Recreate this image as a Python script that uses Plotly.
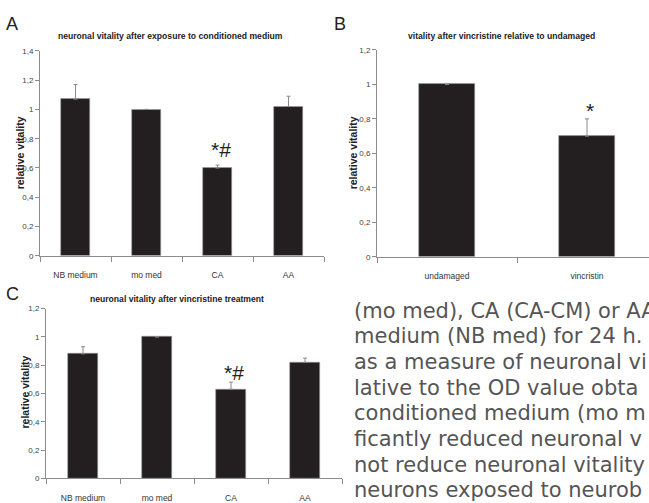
import plotly.graph_objects as go

W, H = 649, 503

# ---- data ----
cats_A = ["NB medium", "mo med", "CA", "AA"]
vals_A = [1.07, 1.00, 0.60, 1.02]
errtop_A = [1.17, 1.00, 0.62, 1.09]

cats_B = ["undamaged", "vincristin"]
vals_B = [1.00, 0.70]
errtop_B = [1.00, 0.80]

cats_C = ["NB medium", "mo med", "CA", "AA"]
vals_C = [0.88, 1.00, 0.63, 0.82]
errtop_C = [0.93, 1.00, 0.68, 0.85]

sig_A = {"CA": ("*#", 0.725)}
sig_B = {"vincristin": ("*", 0.85)}
sig_C = {"CA": ("*#", 0.75)}

title_A = "neuronal vitality after exposure to conditioned medium"
title_B = "vitality after vincristine relative to undamaged"
title_C = "neuronal vitality after vincristine treatment"
ylabel = "relative vitality"

para_lines = [
    "(mo med), CA (CA-CM) or AA",
    "medium (NB med) for 24 h.",
    "as a measure of neuronal vi",
    "lative to the OD value obta",
    "conditioned medium (mo m",
    "ficantly reduced neuronal v",
    "not reduce neuronal vitality",
    "neurons exposed to neurob",
]

BAR = "#231f20"
AX = "#8c8c8c"
SANS = "Liberation Sans, Arial, sans-serif"

def px_x(p):
    return p / W

def px_y(p):
    return 1 - p / H

fig = go.Figure()

def add_panel(cats, vals, errtop, xa, ya):
    fig.add_trace(go.Bar(
        x=cats, y=vals, xaxis=xa, yaxis=ya, width=0.4,
        marker=dict(color=BAR, line=dict(color="#9a9a9a", width=0.6)),
        error_y=dict(type="data", symmetric=False,
                     array=[t - v for t, v in zip(errtop, vals)],
                     arrayminus=[0] * len(vals),
                     color="#8a8a8a", thickness=1, width=2),
        showlegend=False,
    ))

add_panel(cats_A, vals_A, errtop_A, "x", "y")
add_panel(cats_B, vals_B, errtop_B, "x2", "y2")
add_panel(cats_C, vals_C, errtop_C, "x3", "y3")

xcommon = dict(type="category", showline=True, linecolor=AX, linewidth=1,
               ticks="outside", tickson="boundaries", ticklen=5, tickcolor=AX,
               tickfont=dict(family=SANS, size=8.5, color="#333"),
               showgrid=False, zeroline=False, fixedrange=True)
ycommon = dict(showline=True, linecolor=AX, linewidth=1, ticks="outside",
               ticklen=4, tickcolor=AX, dtick=0.2,
               tickfont=dict(family=SANS, size=8, color="#444"),
               showgrid=False, zeroline=False, fixedrange=True)

fig.update_layout(
    width=W, height=H, margin=dict(l=0, r=0, t=0, b=0),
    paper_bgcolor="white", plot_bgcolor="white", separators=",.",
    bargap=0,
    xaxis=dict(xcommon, domain=[px_x(40), px_x(324)], anchor="y",
               range=[-0.5, 3.5], ticklabelstandoff=11),
    yaxis=dict(ycommon, domain=[px_y(258), px_y(48)], anchor="x",
               range=[0, 1.4]),
    xaxis2=dict(xcommon, domain=[px_x(377), 1], anchor="y2",
                range=[-0.5, -0.5 + (W - 377) / 140], ticklabelstandoff=11),
    yaxis2=dict(ycommon, domain=[px_y(259), px_y(47)], anchor="x2",
                range=[0, 1.2]),
    xaxis3=dict(xcommon, domain=[px_x(46), px_x(342)], anchor="y3",
                range=[-0.5, 3.5], ticklabelstandoff=11),
    yaxis3=dict(ycommon, domain=[px_y(486), px_y(312)], anchor="x3",
                range=[0, 1.2]),
)

ann = []
# significance markers
for sig, xa, ya in [(sig_A, "x", "y"), (sig_B, "x2", "y2"), (sig_C, "x3", "y3")]:
    for cat, (txt, yv) in sig.items():
        ann.append(dict(x=cat, y=yv, xref=xa, yref=ya, text=txt, showarrow=False,
                        font=dict(family=SANS, size=21, color="#222"), xshift=3))

# panel letters
for letter, x, y in [("A", 12, 21), ("B", 340, 21), ("C", 12, 297)]:
    ann.append(dict(x=px_x(x), y=px_y(y), xref="paper", yref="paper", text=letter,
                    showarrow=False, xanchor="center", yanchor="middle",
                    font=dict(family=SANS, size=18, color="#222")))

# titles
for t, x, y in [(title_A, 170, 33), (title_B, 501, 33), (title_C, 177, 302)]:
    ann.append(dict(x=px_x(x), y=px_y(y), xref="paper", yref="paper",
                    text="<b>%s</b>" % t, showarrow=False,
                    xanchor="center", yanchor="middle",
                    font=dict(family=SANS, size=8.6, color="#222")))

# y labels
for x, y in [(20, 153), (353, 153), (25, 398)]:
    ann.append(dict(x=px_x(x), y=px_y(y), xref="paper", yref="paper",
                    text="<b>%s</b>" % ylabel, showarrow=False, textangle=-90,
                    xanchor="center", yanchor="middle",
                    font=dict(family=SANS, size=10.5, color="#222")))

# paragraph text
for i, line in enumerate(para_lines):
    ann.append(dict(x=px_x(352), y=px_y(314 + i * 26.3), xref="paper", yref="paper",
                    text=line, showarrow=False, xanchor="left", yanchor="middle",
                    font=dict(family="DejaVu Sans, sans-serif", size=21, color="#555")))

fig.update_layout(annotations=ann)
fig.write_html("out.html", config={"displayModeBar": False},
               post_script="document.body.style.margin='0';")
